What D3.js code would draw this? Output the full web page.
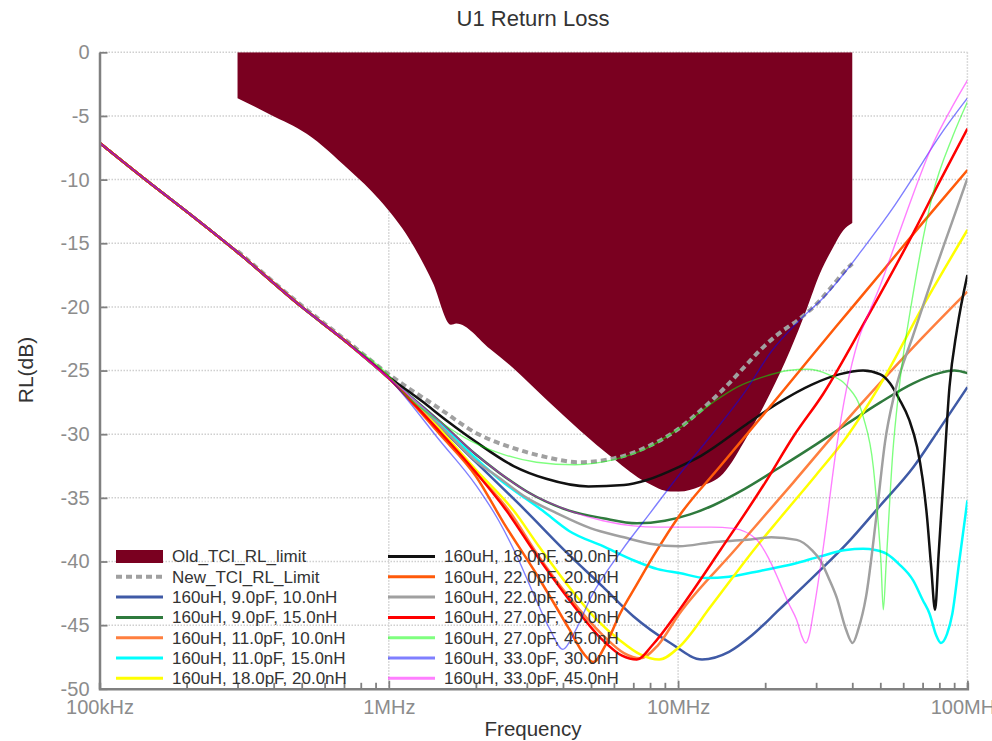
<!DOCTYPE html>
<html><head><meta charset="utf-8">
<script src="https://cdn.jsdelivr.net/npm/d3@7"></script>
<style>body{margin:0;background:#fff}svg{display:block;font-family:"Liberation Sans",Arial,sans-serif}</style>
</head><body><svg id="chart" width="992" height="741"></svg>
<script>
// ---------- data (frequency in MHz, RL in dB) ----------
const chartTitle = "U1 Return Loss";
const xLabel = "Frequency";
const yLabel = "RL(dB)";
const xDecades = [0.1, 1, 10, 100];
const xTickLabels = ["100kHz", "1MHz", "10MHz", "100MHz"];
const yTickValues = [0, -5, -10, -15, -20, -25, -30, -35, -40, -45, -50];

const oldLimitName = "Old_TCI_RL_limit";
const newLimitName = "New_TCI_RL_Limit";
const oldLimit = [[0.3,-3.6],[0.39,-4.9],[0.52,-6.4],[0.73,-9.25],[0.93,-11.6],[1.18,-14.7],[1.42,-18.1],[1.64,-21.4],[1.71,-21.3],[2.24,-23.3],[2.69,-24.8],[3.51,-27.3],[4.58,-29.7],[5.97,-31.9],[7.79,-33.8],[9.4,-34.5],[10.1,-34.5],[11.9,-34.1],[14.3,-33.1],[17.3,-30.2],[20.8,-26.8],[24.4,-23.4],[27.8,-20.2],[30.9,-17.4],[34.4,-15.3],[37.2,-14.0],[40,-13.4]];
const newLimit = [[0.3,-15.6],[0.5,-19.9],[0.7,-22.5],[1,-25.3],[1.5,-28.0],[2,-29.9],[2.7,-31.1],[3.5,-31.8],[4.5,-32.2],[6,-31.9],[7.8,-31.0],[10,-29.6],[11.6,-28.4],[14,-26.7],[17.3,-24.5],[19.2,-23.4],[22,-22.2],[26.4,-20.9],[30,-19.8],[34,-18.4],[38.3,-17.0],[40,-16.6]];

const commonLow = [[0.1,-7.1],[0.15,-10.3],[0.2,-12.5],[0.3,-15.7],[0.5,-20.0],[0.7,-22.6]];

const seriesNames = [
  "160uH, 9.0pF, 10.0nH","160uH, 9.0pF, 15.0nH","160uH, 11.0pF, 10.0nH","160uH, 11.0pF, 15.0nH",
  "160uH, 18.0pF, 20.0nH","160uH, 18.0pF, 30.0nH","160uH, 22.0pF, 20.0nH","160uH, 22.0pF, 30.0nH",
  "160uH, 27.0pF, 30.0nH","160uH, 27.0pF, 45.0nH","160uH, 33.0pF, 30.0nH","160uH, 33.0pF, 45.0nH"];

const c9p10n = [[1,-25.6],[1.5,-29.4],[2,-32.2],[2.97,-36.0],[4,-39.0],[5.5,-42.0],[7,-44.3],[9.4,-46.4],[12.1,-47.7],[15,-47.1],[18,-45.8],[22.3,-43.8],[30,-41.0],[38.3,-38.6],[50,-35.6],[65,-32.6],[80,-29.6],[100,-26.3]];
const c9p15n = [[1,-25.6],[1.5,-29.0],[2,-31.6],[2.4,-33.0],[3,-34.5],[4.2,-36.0],[5.5,-36.6],[7.2,-37.0],[9,-36.8],[11,-36.3],[13.2,-35.6],[17,-34.3],[22.5,-32.6],[30,-30.8],[38.3,-29.2],[50,-27.5],[65,-26.0],[80,-25.2],[90,-25.0],[100,-25.2]];
const c11p10n = [[1,-25.6],[1.5,-29.8],[2,-33.0],[2.6,-36.0],[3.3,-39.6],[4.2,-42.8],[5.5,-45.8],[6.5,-47.2],[7.4,-47.6],[8.5,-46.6],[10.1,-44.1],[15.7,-39.1],[25,-33.8],[35,-29.9],[51.2,-25.7],[70,-22.4],[100,-18.8]];
const c11p15n = [[1,-25.6],[1.5,-29.2],[2,-31.9],[2.4,-33.5],[3.4,-36.0],[4.2,-37.6],[5.5,-38.8],[7,-39.9],[8.5,-40.6],[10.1,-40.9],[12.5,-41.3],[15,-41.2],[19.5,-40.7],[25,-40.2],[31,-39.6],[38,-39.1],[43.6,-39.0],[48,-39.1],[52.6,-39.4],[58,-40.2],[65,-41.5],[70,-43.0],[74,-44.1],[78,-45.8],[81,-46.4],[85,-45.7],[88.7,-44.1],[93.6,-40.1],[100,-35.2]];
const c18p20n = [[1,-25.6],[1.5,-29.6],[2,-32.8],[2.7,-36.0],[3.3,-38.8],[4.2,-42.0],[5.2,-44.5],[6.3,-46.2],[7.4,-47.3],[8.6,-47.7],[10.1,-46.7],[13,-43.5],[18.7,-38.8],[22.3,-36.7],[30,-33.2],[38.3,-30.2],[51.2,-25.7],[70,-20.0],[100,-13.96]];
const c18p30n = [[1,-25.5],[1.3,-27.4],[1.6,-29.0],[2,-30.6],[2.7,-32.5],[3.5,-33.5],[4.9,-34.1],[6.5,-34.0],[7.8,-33.6],[10,-32.6],[12,-31.7],[17.3,-29.2],[22,-27.6],[29,-26.1],[36,-25.3],[43.6,-25.0],[50,-25.3],[54,-26.0],[58,-27.2],[63,-28.9],[67,-31.0],[70,-33.5],[72.3,-36.2],[75,-40.5],[77.3,-43.8],[79.5,-39.5],[82.6,-33.6],[86.7,-26.3],[92,-21.8],[100,-17.5]];
const c22p20n = [[1,-25.6],[1.5,-30.0],[2,-33.3],[2.5,-37.0],[3.24,-41.0],[4.2,-45.3],[4.7,-47.2],[5.1,-47.9],[5.6,-46.6],[6.3,-44.1],[7.2,-41.8],[8.2,-39.6],[10.1,-36.4],[14,-32.5],[22.3,-27.0],[35,-21.6],[50,-17.4],[70,-13.4],[100,-9.25]];
const c22p30n = [[1,-25.6],[1.5,-29.3],[2,-32.1],[2.4,-33.4],[3,-35.0],[3.8,-36.2],[5,-37.4],[6.5,-38.1],[8,-38.6],[10.1,-38.8],[13,-38.5],[17.3,-38.3],[21,-38.1],[25.7,-38.3],[29,-39.1],[31,-39.9],[33,-41.2],[35.3,-42.8],[38,-45.3],[40.1,-46.4],[42,-45.3],[44.6,-42.8],[48.6,-36.2],[52,-30.5],[56,-26.8],[65,-22.2],[76,-17.6],[88,-13.5],[100,-9.9]];
const c27p30n = [[1,-25.6],[1.5,-29.8],[2,-33.0],[2.55,-36.0],[3.24,-39.5],[4.2,-43.0],[5.5,-46.2],[6.4,-47.4],[7.2,-47.7],[8.2,-46.5],[10.1,-43.8],[14,-39.1],[20,-33.8],[25,-30.2],[31.8,-26.8],[44.6,-21.0],[65,-14.2],[80,-10.2],[100,-6.0]];
const c27p45n = [[1,-25.4],[1.12,-26.7],[1.5,-29.0],[1.91,-30.5],[2.5,-31.6],[3.24,-32.2],[4.4,-32.4],[6,-32.0],[7.8,-31.1],[10,-29.6],[13.2,-27.5],[16,-26.3],[19.7,-25.5],[24,-25.0],[28,-24.9],[33,-25.3],[38.3,-26.2],[43.6,-28.6],[47.3,-32.6],[49,-36.5],[50.3,-40.2],[51.2,-43.8],[52.4,-40.1],[55.2,-31.5],[58,-26.5],[65,-18.9],[76,-11.1],[89,-6.6],[100,-3.9]];
const c33p30n = [[1,-25.6],[1.5,-30.5],[2,-34.0],[2.4,-36.8],[2.8,-39.8],[3.2,-42.8],[3.6,-45.3],[4.0,-46.9],[4.4,-45.5],[5,-42.8],[6.4,-39.1],[8,-36.2],[10,-33.3],[13,-30.1],[17,-26.7],[21,-23.5],[26.4,-21.0],[32,-19.2],[38.3,-17.1],[44,-15.3],[55,-12.3],[65,-9.8],[80,-6.6],[100,-3.6]];
const c33p45n = [[1,-25.6],[1.5,-29.0],[2,-31.6],[2.4,-33.0],[3,-34.5],[4.2,-36.0],[5.5,-36.8],[7,-37.2],[8.5,-37.3],[10,-37.3],[13,-37.3],[15.5,-37.4],[18.7,-38.3],[20.5,-39.7],[22.3,-41.5],[24,-43.2],[25.7,-44.6],[26.8,-45.9],[27.6,-46.4],[28.4,-45.8],[29.3,-44.1],[31.8,-38.8],[35.3,-31.0],[38.3,-26.3],[42,-22.6],[46,-20.3],[50,-18.3],[56,-15.2],[62,-12.4],[76,-7.2],[88,-4.4],[100,-2.2]];

const seriesData = [c9p10n,c9p15n,c11p10n,c11p15n,c18p20n,c18p30n,c22p20n,c22p30n,c27p30n,c27p45n,c33p30n,c33p45n];

// ---------- styles ----------
const seriesColors = ["#3f5aa6","#2f7a3d","#ff7f3f","#00ffff","#ffff00","#111111","#ff5a0a","#a0a0a0","#ff0000","#00ff00","#0000ff","#ff00ff"];
const seriesOpacity = [1,1,1,1,1,1,1,1,1,0.5,0.5,0.5];
const seriesWidth = [2.5,2.5,2.5,2.5,2.5,2.5,2.5,2.5,2.5,1.4,1.4,1.4];
const oldColor = "#7a0020";
const newColor = "#a0a0a0";

// ---------- chart ----------
const P = {l:99.5, r:967.4, t:52.3, b:688.8};
const x = d3.scaleLog().domain([0.1,100]).range([P.l,P.r]);
const y = d3.scaleLinear().domain([-50,0]).range([P.b,P.t]);
const svg = d3.select("#chart");

svg.append("defs").append("clipPath").attr("id","clip")
  .append("rect").attr("x",P.l).attr("y",P.t).attr("width",P.r-P.l).attr("height",P.b-P.t);

// grid
const grid = svg.append("g");
grid.selectAll("line.h").data(yTickValues.filter(v=>v>-50)).join("line")
  .attr("x1",P.l).attr("x2",P.r).attr("y1",d=>y(d)).attr("y2",d=>y(d))
  .attr("stroke","#cfcfcf").attr("stroke-width",1.5).attr("stroke-dasharray","1.5,1.5");
grid.selectAll("line.v").data(xDecades.slice(1)).join("line")
  .attr("y1",P.t).attr("y2",P.b).attr("x1",d=>x(d)).attr("x2",d=>x(d))
  .attr("stroke","#cfcfcf").attr("stroke-width",1.5).attr("stroke-dasharray","1.5,1.5");

const plot = svg.append("g").attr("clip-path","url(#clip)");

// old limit (filled)
const oldArea = d3.area().x(d=>x(d[0])).y0(y(0)).y1(d=>y(d[1])).curve(d3.curveMonotoneX);
plot.append("path").datum(oldLimit).attr("d",oldArea).attr("fill",oldColor);

const line = d3.line().x(d=>x(d[0])).y(d=>y(d[1])).curve(d3.curveMonotoneX);

// new limit (dashed)
plot.append("path").datum(newLimit).attr("d",line).attr("fill","none")
  .attr("stroke",newColor).attr("stroke-width",4).attr("stroke-dasharray","6,4");

// series
seriesData.forEach((s,i)=>{
  plot.append("path").datum(commonLow.concat(s)).attr("d",line).attr("fill","none")
    .attr("stroke",seriesColors[i]).attr("stroke-opacity",seriesOpacity[i])
    .attr("stroke-width",seriesWidth[i]).attr("stroke-linejoin","round");
});

// axes
const axisColor = "#808080", labelColor = "#8c8c8c";
const yAxis = svg.append("g").attr("transform",`translate(${P.l},0)`)
  .call(d3.axisLeft(y).tickValues(yTickValues).tickSize(-8).tickSizeOuter(0).tickPadding(10).tickFormat(d=>String(d)));
const xAxis = svg.append("g").attr("transform",`translate(0,${P.b})`)
  .call(d3.axisBottom(x).tickValues(x.ticks()).tickSizeOuter(0).tickSize(-6).tickPadding(11)
    .tickFormat(d=>{const k=xDecades.findIndex(v=>Math.abs(v-d)<1e-9);return k>=0?xTickLabels[k]:"";}));
[yAxis,xAxis].forEach(a=>{
  a.select(".domain").attr("stroke",axisColor).attr("stroke-width",2.5);
  a.selectAll(".tick line").attr("stroke",axisColor).attr("stroke-width",1.8);
  a.selectAll(".tick text").attr("fill",labelColor).style("font-size","20px").style("font-family","'Liberation Sans',Arial,sans-serif");
});
xAxis.selectAll(".tick").filter(d=>xDecades.some(v=>Math.abs(v-d)<1e-9)).select("line").attr("y2",-8);

// titles
svg.append("text").attr("x",533).attr("y",26).attr("text-anchor","middle")
  .style("font-size","22px").attr("fill","#333").text(chartTitle);
svg.append("text").attr("x",533).attr("y",736).attr("text-anchor","middle")
  .style("font-size","20.5px").attr("fill","#333").text(xLabel);
svg.append("text").attr("transform","translate(33,370) rotate(-90)").attr("text-anchor","middle")
  .style("font-size","21px").attr("fill","#333").text(yLabel);

// legend
const legendItems = [{name:oldLimitName,type:"fill"},{name:newLimitName,type:"dash"}]
  .concat(seriesNames.map((n,i)=>({name:n,type:"line",i})));
const leg = svg.append("g");
legendItems.forEach((it,k)=>{
  const col = k<7?0:1, row = k%7;
  const sx = col===0?116:388, ty = 556.5+row*20.3;
  const g = leg.append("g");
  if(it.type==="fill"){
    g.append("rect").attr("x",sx).attr("y",ty-6.5).attr("width",47).attr("height",13).attr("fill",oldColor);
  } else if(it.type==="dash"){
    g.append("line").attr("x1",sx).attr("x2",sx+47).attr("y1",ty).attr("y2",ty)
      .attr("stroke",newColor).attr("stroke-width",4).attr("stroke-dasharray","6,4");
  } else {
    g.append("line").attr("x1",sx).attr("x2",sx+47).attr("y1",ty).attr("y2",ty)
      .attr("stroke",seriesColors[it.i]).attr("stroke-opacity",seriesOpacity[it.i]).attr("stroke-width",3);
  }
  g.append("text").attr("x",sx+56).attr("y",ty).attr("dy","0.35em")
    .style("font-size","17px").attr("fill","#333").text(it.name);
});
</script></body></html>
